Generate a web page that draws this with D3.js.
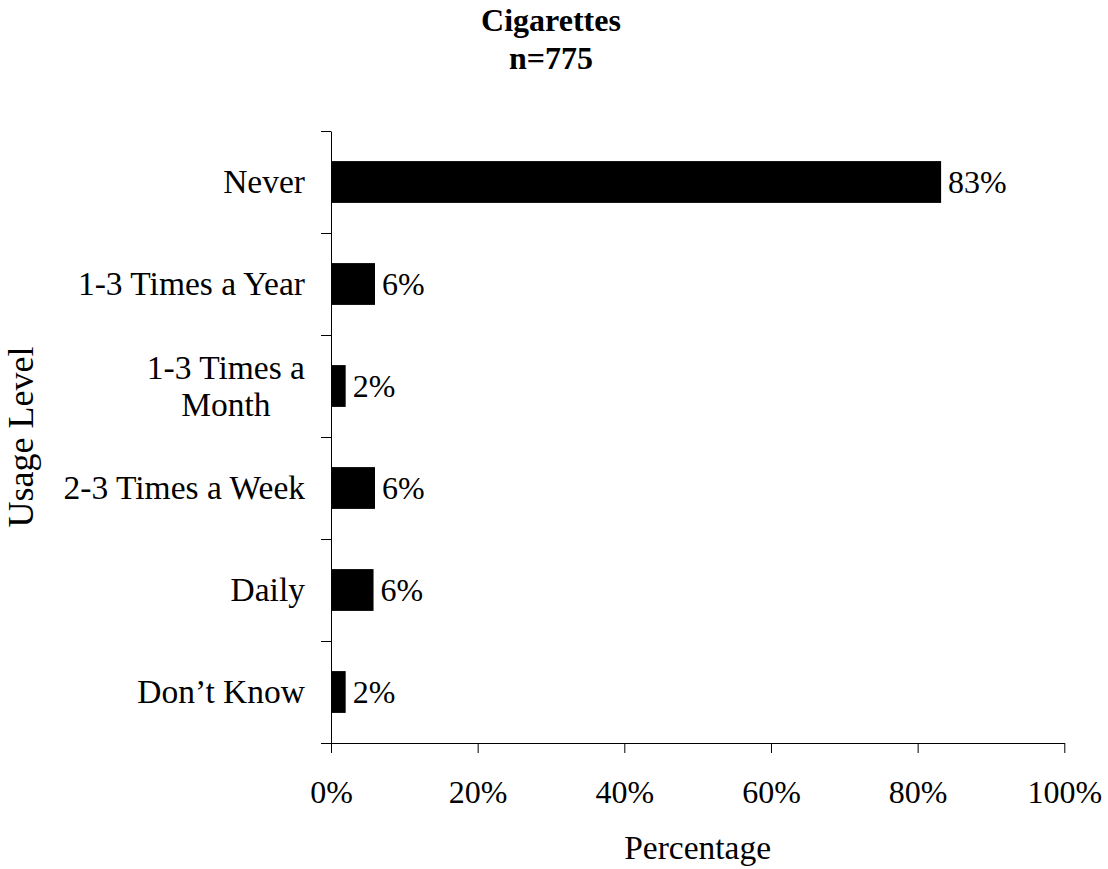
<!DOCTYPE html>
<html>
<head>
<meta charset="utf-8">
<script src="https://cdn.jsdelivr.net/npm/d3@7"></script>
<style>
  html, body { margin: 0; padding: 0; background: #fff; }
  svg { display: block; }
  text { font-family: "Liberation Serif", "Times New Roman", serif; fill: #000; }
</style>
</head>
<body>
<svg id="chart" width="1108" height="869"></svg>
<script>
// Usage levels (top to bottom) and share of respondents
const categories = ["Never", "1-3 Times a Year", "1-3 Times a|Month", "2-3 Times a Week", "Daily", "Don\u2019t Know"];
const values = [0.832, 0.060, 0.020, 0.060, 0.058, 0.020];
const xTicks = [0, 0.2, 0.4, 0.6, 0.8, 1.0];
const titleLines = ["Cigarettes", "n=775"];

const svg = d3.select("#chart");
const fsTick = 32, fsCat = 33.5, fsTitle = 32, fsAxisTitle = 33.5, fsYTitle = 36;
const plot = { left: 331, right: 1064.3, top: 131, bottom: 743 };

const x = d3.scaleLinear().domain([0, 1]).range([plot.left, plot.right]);
const y = d3.scaleBand().domain(categories).range([plot.top, plot.bottom])
  .paddingInner(0.59).paddingOuter(0.295);
const pct = d3.format(".0%");

// Title
svg.append("g").selectAll("text").data(titleLines).join("text")
  .attr("x", 551).attr("y", (d, i) => 31 + i * 37.5)
  .attr("text-anchor", "middle")
  .style("font-size", fsTitle + "px").style("font-weight", "bold")
  .text(d => d);

// Bars
svg.append("g").selectAll("rect").data(values).join("rect")
  .attr("x", x(0))
  .attr("y", (d, i) => y(categories[i]))
  .attr("width", d => x(d) - x(0))
  .attr("height", y.bandwidth())
  .attr("fill", "#000");

// Value labels
svg.append("g").selectAll("text").data(values).join("text")
  .attr("x", d => x(d) + 7)
  .attr("y", (d, i) => y(categories[i]) + y.bandwidth() / 2 + 11)
  .style("font-size", fsTick + "px")
  .text(d => pct(d));

// X axis
const xAxis = d3.axisBottom(x).tickValues(xTicks).tickFormat(pct)
  .tickSize(10).tickSizeOuter(0);
const gx = svg.append("g").attr("transform", `translate(0,${plot.bottom})`).call(xAxis);
gx.selectAll("text").style("font-size", fsTick + "px")
  .style("font-family", '"Liberation Serif", serif')
  .attr("dy", null).attr("y", 60);
gx.selectAll("line, path").attr("stroke", "#000");

// Y axis: ticks sit on category boundaries
const yEdges = d3.scaleLinear().domain([0, categories.length]).range([plot.top, plot.bottom]);
const yAxis = d3.axisLeft(yEdges).ticks(categories.length).tickFormat("")
  .tickSize(10).tickSizeOuter(0);
const gy = svg.append("g").attr("transform", `translate(${plot.left},0)`).call(yAxis);
gy.selectAll("line, path").attr("stroke", "#000");

// Category labels (may wrap to two centred lines)
const catG = svg.append("g");
categories.forEach(c => {
  const lines = c.split("|");
  const cy = y(c) + y.bandwidth() / 2;
  const t = catG.append("text").style("font-size", fsCat + "px");
  if (lines.length === 1) {
    t.attr("x", 305).attr("y", cy + 11).attr("text-anchor", "end").text(c);
  } else {
    // measure widest line, centre both lines under it, right edge at 305
    const tmp = catG.append("text").style("font-size", fsCat + "px").text(lines[0]);
    const w = d3.max(lines, l => { tmp.text(l); return tmp.node().getComputedTextLength(); });
    tmp.remove();
    const cx = 305 - w / 2;
    t.attr("text-anchor", "middle");
    lines.forEach((l, i) => {
      t.append("tspan").attr("x", cx)
        .attr("y", cy + 11 + (i - (lines.length - 1) / 2) * 37)
        .text(l);
    });
  }
});

// Axis titles
svg.append("text")
  .attr("x", (plot.left + plot.right) / 2).attr("y", 859)
  .attr("text-anchor", "middle").style("font-size", fsAxisTitle + "px")
  .text("Percentage");

svg.append("text")
  .attr("transform", `translate(33,${(plot.top + plot.bottom) / 2}) rotate(-90)`)
  .attr("text-anchor", "middle").style("font-size", fsYTitle + "px")
  .text("Usage Level");
</script>
</body>
</html>
